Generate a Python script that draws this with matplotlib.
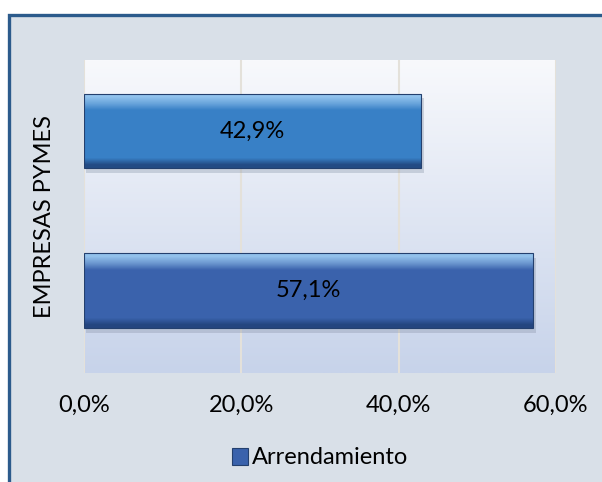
import numpy as np
import matplotlib
matplotlib.use("Agg")
from matplotlib import pyplot as plt
from matplotlib.patches import Rectangle
from matplotlib.colors import LinearSegmentedColormap

# data
category = "EMPRESAS PYMES"
values = [57.1, 42.9]            # bottom bar, top bar
value_labels = ["57,1%", "42,9%"]
bar_colors = ["#3a62ac", "#3880c6"]
xticks = [0, 20, 40, 60]
xtick_labels = ["0,0%", "20,0%", "40,0%", "60,0%"]
legend_label = "Arrendamiento"

plt.rcParams['font.family'] = ['Lato', 'DejaVu Sans']

W, H = 602, 482
fig = plt.figure(figsize=(W / 100, H / 100), dpi=100)
fig.patch.set_facecolor("white")

# outer frame
frame = Rectangle((9 / W, -0.05), 1.2, (H - 15) / H + 0.05, transform=fig.transFigure,
                  facecolor="#d9e0e8", edgecolor="#2c5b8c", linewidth=2.4, zorder=-10)
fig.patches.append(frame)

ax = fig.add_axes([84 / W, (H - 373) / H, (556 - 84) / W, (373 - 60) / H])
ax.set_zorder(1)
ax.set_xlim(0, 60)
ax.set_ylim(-0.517, 1.445)

# plot area gradient
bg = LinearSegmentedColormap.from_list("bg", ["#c7d3ea", "#f8f9fc"])
ax.imshow(np.linspace(0, 1, 256).reshape(-1, 1), cmap=bg, origin="lower", aspect="auto",
          extent=[0, 1, 0, 1], transform=ax.transAxes, zorder=0)
ax.set_xlim(0, 60)
ax.set_ylim(-0.517, 1.445)

for x in xticks:
    ax.axvline(x, color="#e4e1da", linewidth=1.5, zorder=1)

ypos = np.arange(len(values))
bh = 0.47
bars = ax.barh(ypos, values, height=bh, color=bar_colors, edgecolor="#24406e",
               linewidth=0.8, zorder=3)

# bevel / gradient look
for b, c in zip(bars, bar_colors):
    x0, y0, w, h = b.get_x(), b.get_y(), b.get_width(), b.get_height()
    shadow = Rectangle((x0 + 0.3, y0 - 0.03), w, h, facecolor="#8a95a8", alpha=0.35,
                       edgecolor="none", zorder=2)
    ax.add_patch(shadow)
    cm = LinearSegmentedColormap.from_list("v", ["#1f3f75", c, "#9ccbf2"])
    g = np.concatenate([np.full((1, 1), 0.1), np.full((8, 1), 0.5), np.full((1, 1), 0.75), np.full((1, 1), 0.95)])
    im = ax.imshow(g, cmap=cm, vmin=0, vmax=1, origin="lower", aspect="auto",
                   extent=[x0, x0 + w, y0, y0 + h], zorder=3, interpolation="bilinear")
    im.set_clip_path(b)
    b.set_facecolor("none")
    b.set_zorder(4)

ax.set_xlim(0, 60)
ax.set_ylim(-0.517, 1.445)

for b, lab in zip(bars, value_labels):
    ax.text(b.get_width() / 2, b.get_y() + b.get_height() / 2, lab, ha="center",
            va="center", fontsize=17, color="black", zorder=5)

for s in ax.spines.values():
    s.set_visible(False)
ax.set_yticks([])
ax.set_xticks(xticks)
ax.set_xticklabels(xtick_labels, fontsize=17)
ax.tick_params(axis="x", length=0, pad=16)

fig.text(45 / W, 1 - 217 / H, category, rotation=90, ha="center", va="center", fontsize=17)

handle = Rectangle((0, 0), 1, 1, facecolor=bar_colors[0], edgecolor="#24406e", linewidth=0.8)
fig.legend([handle], [legend_label], loc="center", bbox_to_anchor=(320 / W, 1 - 458 / H),
           frameon=False, fontsize=17, handlelength=0.7, handleheight=0.7,
           handletextpad=0.15, borderpad=0)

fig.savefig("out.png", dpi=100)
